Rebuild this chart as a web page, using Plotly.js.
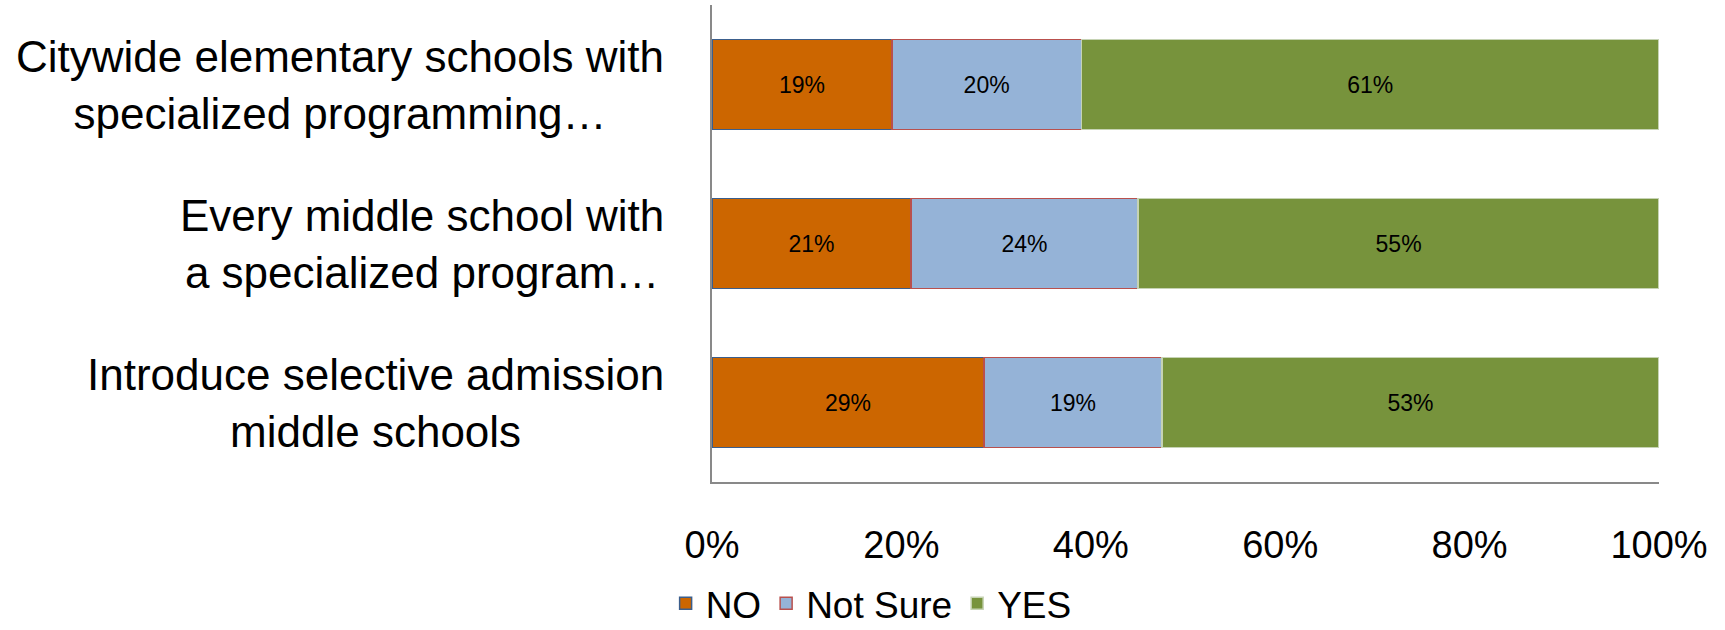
<!DOCTYPE html>
<html>
<head>
<meta charset="utf-8">
<script src="https://cdn.plot.ly/plotly-3.0.1.min.js"></script>
<style>html,body{margin:0;padding:0;background:#fff;}#chart{width:1725px;height:630px;}</style>
</head>
<body>
<div id="chart"></div>
<script>
const categories = [
  "Citywide elementary schools with<br>specialized programming…",
  "Every middle school with<br>a specialized program…",
  "Introduce selective admission<br>middle schools"
];
const seriesNames = ["NO", "Not Sure", "YES"];
const noValues = [19, 21, 29];
const notSureValues = [20, 24, 19];
const yesValues = [61, 55, 53];
const tickValues = [0, 20, 40, 60, 80, 100];
const tickLabels = ["0%", "20%", "40%", "60%", "80%", "100%"];

const FONT = "'Liberation Sans', Arial, sans-serif";
const fills = ["#CC6600", "#95B3D7", "#77933C"];
const borders = ["#3B5E8C", "#B9504D", "#C6D3B4"];
const series = [noValues, notSureValues, yesValues];

const traces = series.map((vals, i) => ({
  type: "bar",
  orientation: "h",
  name: seriesNames[i],
  y: categories,
  x: vals,
  text: vals.map(v => v + "%"),
  texttemplate: "%{text}",
  textposition: "inside",
  insidetextanchor: "middle",
  textangle: 0,
  textfont: {family: FONT, size: 23, color: "#000"},
  marker: {color: fills[i], line: {color: borders[i], width: 1.5}},
  hoverinfo: "skip"
}));

const annotations = categories.map(c => ({
  xref: "paper", yref: "y", x: 0, y: c,
  xanchor: "right", yanchor: "middle", xshift: -46,
  text: c, align: "center", showarrow: false,
  font: {family: FONT, size: 44, color: "#000"}
}));

const layout = {
  width: 1725, height: 630,
  margin: {l: 712, r: 66, t: 5, b: 148, pad: 0, autoexpand: false},
  paper_bgcolor: "#fff", plot_bgcolor: "#fff",
  barmode: "stack", barnorm: "percent", bargap: 0.435,
  showlegend: true,
  font: {family: FONT, color: "#000"},
  xaxis: {
    range: [0, 100], tickvals: tickValues, ticktext: tickLabels,
    showgrid: false, zeroline: false, showline: true, linecolor: "#898989", linewidth: 2,
    ticks: "", ticklabelstandoff: 28, automargin: false,
    tickfont: {family: FONT, size: 38, color: "#000"}, fixedrange: true
  },
  yaxis: {
    autorange: "reversed", showticklabels: false, showgrid: false, zeroline: false,
    showline: true, linecolor: "#898989", linewidth: 2, ticks: "", fixedrange: true, automargin: false
  },
  legend: {
    orientation: "h", xref: "container", yref: "paper",
    x: 0.505, xanchor: "center", y: -0.255, yanchor: "middle",
    font: {family: FONT, size: 37, color: "#000"},
    traceorder: "normal", itemwidth: 30
  },
  annotations: annotations
};

Plotly.newPlot("chart", traces, layout, {displayModeBar: false, staticPlot: true});
</script>
</body>
</html>
